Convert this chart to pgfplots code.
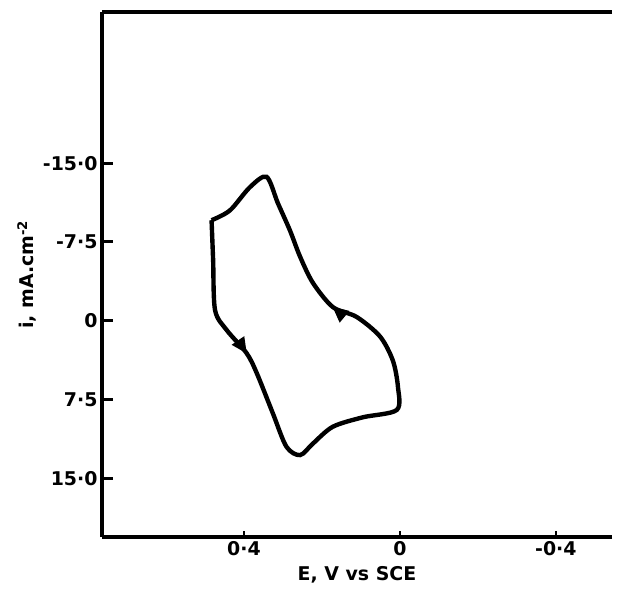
\documentclass[border=0pt]{standalone}
\usepackage{fontspec}
\setmainfont{DejaVu Sans}
\usepackage{pgfplots}
\pgfplotsset{compat=1.18}
\usetikzlibrary{decorations.markings,arrows.meta}
\begin{document}
\begin{tikzpicture}
\begin{axis}[
  scale only axis, width=510bp, height=525bp,
  x dir=reverse, y dir=reverse,
  xmin=-0.544, xmax=0.764, ymin=-29.4, ymax=20.6,
  axis x line*=box, axis y line*=left,
  axis line style={line width=3.2pt},
  xtick={0.4,0,-0.4}, xticklabels={0·4,0,-0·4},
  ytick={-15,-7.5,0,7.5,15}, yticklabels={-15·0,-7·5,0,7·5,15·0},
  major tick length=0pt,
  ticklabel style={font=\bfseries\fontsize{19}{19}\selectfont},
  xticklabel style={yshift=-1bp},
  yticklabel style={xshift=-1bp},
  xlabel={E, V vs SCE},
  ylabel={i, mA.cm\textsuperscript{-2}},
  label style={font=\bfseries\fontsize{19}{19}\selectfont},
  xlabel style={yshift=-4bp},
  ylabel style={yshift=0bp},
  clip=false,
]
\addplot[line width=4.4pt, black, smooth, tension=0.5,
  postaction={decorate},
  decoration={markings,
    mark=at position 0.199 with {\arrow{Triangle[length=16bp,width=14bp]}},
    mark=at position 0.699 with {\arrow{Triangle[length=16bp,width=14bp]}}}]
coordinates {
(0.483,-9.57) (0.479,-5.8) (0.474,-1.0) (0.444,0.9) (0.393,3.1)
(0.367,5.0) (0.326,8.8) (0.291,12.0) (0.256,12.8) (0.223,11.7)
(0.172,10.1) (0.095,9.2) (0.008,8.5) (0.005,6.3) (0.018,3.8)
(0.051,1.5) (0.111,-0.36) (0.172,-1.3) (0.223,-3.6) (0.256,-6.1)
(0.282,-8.6) (0.313,-11.2) (0.342,-13.7) (0.385,-12.7) (0.436,-10.5)
(0.483,-9.57)
};
\coordinate (ya) at (axis cs:0.764,-15);
\coordinate (yb) at (axis cs:0.764,-7.5);
\coordinate (yc) at (axis cs:0.764,0);
\coordinate (yd) at (axis cs:0.764,7.5);
\coordinate (ye) at (axis cs:0.764,15);
\coordinate (xa) at (axis cs:0.4,20.6);
\coordinate (xb) at (axis cs:0,20.6);
\coordinate (xc) at (axis cs:-0.4,20.6);
\end{axis}
\foreach \p in {ya,yb,yc,yd,ye}{
  \draw[line width=3pt] (\p) -- ++(11bp,0);
}
\foreach \p in {xa,xb,xc}{
  \draw[line width=2.6pt] (\p) -- ++(0,6bp);
}
\path (current axis.south west) +(-102bp,-70bp);
\path (current axis.north east) +(6bp,12bp);
\end{tikzpicture}
\end{document}
